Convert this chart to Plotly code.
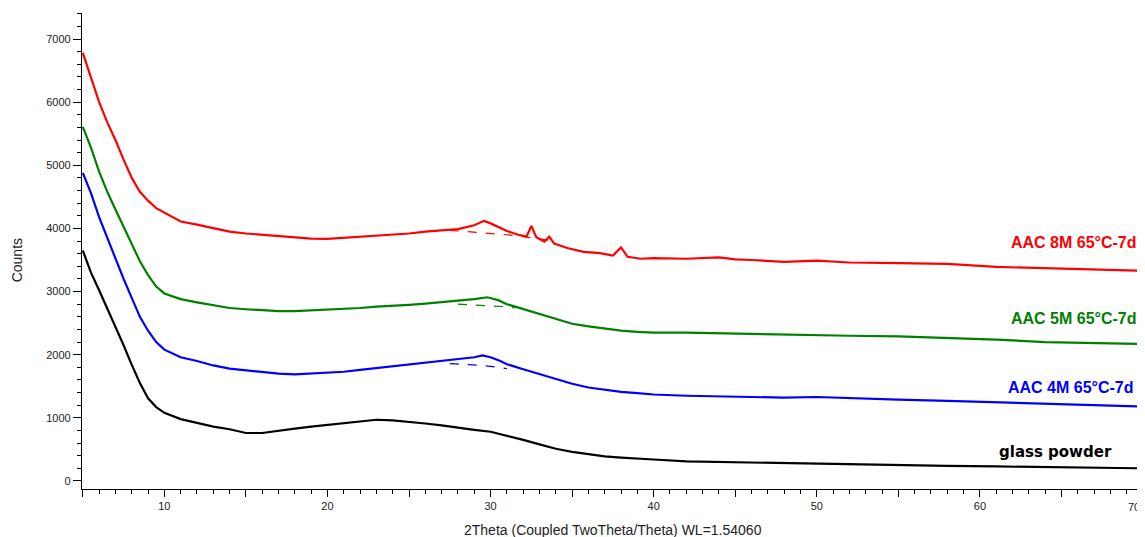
import plotly.graph_objects as go

# ---------------- data ----------------
x_8m = [5, 5.5, 6, 6.5, 7, 7.5, 8, 8.5, 9, 9.5, 10, 11, 12, 13, 14, 15, 16, 17, 18, 19, 20,
        21, 22, 23, 24, 25, 26, 27, 28, 29, 29.6, 30, 30.6, 31, 31.7, 32.2, 32.5, 32.8, 33.3,
        33.6, 33.9, 34.7, 35.7, 36.7, 37.5, 38, 38.4, 39.2, 40, 42, 44, 45, 46, 48, 50, 52,
        55, 58, 61, 64, 67, 70]
y_8m = [6780, 6400, 6000, 5680, 5400, 5090, 4800, 4580, 4440, 4320, 4250, 4110, 4060, 4000,
        3950, 3920, 3900, 3870, 3850, 3840, 3835, 3850, 3865, 3880, 3900, 3920, 3950, 3970,
        3990, 4050, 4120, 4080, 4010, 3960, 3900, 3870, 4040, 3860, 3790, 3870, 3760, 3690,
        3630, 3610, 3570, 3700, 3550, 3520, 3530, 3520, 3540, 3510, 3500, 3470, 3490, 3460,
        3450, 3440, 3390, 3370, 3350, 3330]

x_5m = [5, 5.5, 6, 6.5, 7, 7.5, 8, 8.5, 9, 9.5, 10, 11, 12, 13, 14, 15, 16, 17, 18, 19, 20,
        21, 22, 23, 24, 25, 26, 27, 28, 29, 29.8, 30.5, 31, 32, 33, 34, 35, 36, 37, 38, 39,
        40, 42, 44, 46, 48, 50, 52, 55, 58, 61, 64, 67, 70]
y_5m = [5610, 5280, 4900, 4580, 4300, 4020, 3740, 3480, 3260, 3080, 2970, 2880, 2830, 2780,
        2740, 2720, 2700, 2690, 2690, 2700, 2710, 2730, 2740, 2760, 2770, 2790, 2810, 2830,
        2850, 2880, 2910, 2860, 2800, 2720, 2640, 2560, 2490, 2450, 2410, 2380, 2360, 2350,
        2350, 2340, 2320, 2310, 2300, 2300, 2290, 2270, 2240, 2200, 2190, 2170]

x_4m = [5, 5.5, 6, 6.5, 7, 7.5, 8, 8.5, 9, 9.5, 10, 11, 12, 13, 14, 15, 16, 17, 18, 19, 20,
        21, 22, 23, 24, 25, 26, 27, 28, 29, 29.5, 30, 30.6, 31, 32, 33, 34, 35, 36, 37, 38,
        39, 40, 42, 44, 46, 48, 50, 52, 55, 58, 61, 64, 67, 70]
y_4m = [4880, 4560, 4180, 3850, 3520, 3200, 2900, 2600, 2380, 2200, 2080, 1960, 1900, 1830,
        1780, 1750, 1720, 1700, 1690, 1700, 1710, 1730, 1760, 1790, 1820, 1850, 1880, 1900,
        1930, 1960, 1990, 1960, 1900, 1850, 1770, 1690, 1610, 1540, 1480, 1440, 1410, 1390,
        1370, 1350, 1340, 1330, 1320, 1330, 1310, 1290, 1270, 1250, 1230, 1210, 1180]

x_glass = [5, 5.5, 6, 6.5, 7, 7.5, 8, 8.5, 9, 9.5, 10, 11, 12, 13, 14, 15, 16, 17, 18, 19,
           20, 21, 22, 23, 24, 25, 26, 27, 28, 29, 30, 31, 32, 33, 34, 35, 36, 37, 38, 39,
           40, 42, 44, 46, 48, 50, 52, 55, 58, 61, 64, 67, 70]
y_glass = [3650, 3300, 3020, 2730, 2450, 2150, 1840, 1550, 1310, 1170, 1080, 980, 920, 860,
           820, 760, 760, 800, 830, 860, 890, 920, 950, 970, 960, 940, 910, 880, 840, 810,
           780, 720, 650, 580, 510, 460, 420, 390, 370, 350, 340, 310, 300, 290, 280, 270,
           260, 250, 240, 230, 220, 210, 200]

# dashed amorphous baselines under the humps
xb_8m = [27.5, 28.5, 30, 31, 32, 33, 34]
yb_8m = [3970, 3950, 3930, 3900, 3870, 3840, 3800]
xb_5m = [28, 29, 30, 31, 31.5]
yb_5m = [2800, 2790, 2780, 2760, 2740]
xb_4m = [27.5, 28.5, 29.5, 30.5, 31]
yb_4m = [1860, 1850, 1830, 1800, 1780]

names = ["AAC 8M 65°C-7d", "AAC 5M 65°C-7d", "AAC 4M 65°C-7d", "glass powder"]
colors = ["#ff0000", "#008000", "#0000ff", "#000000"]

x_ticks = [5, 10, 15, 20, 25, 30, 35, 40, 45, 50, 55, 60, 65, 70]
x_ticktext = ["", "10", "", "20", "", "30", "", "40", "", "50", "", "60", "", ""]
x_last_label = "70"   # sits at the right edge, drawn right-aligned
y_ticks = [0, 1000, 2000, 3000, 4000, 5000, 6000, 7000]

# ---------------- figure ----------------
fig = go.Figure()
series = [(x_8m, y_8m), (x_5m, y_5m), (x_4m, y_4m), (x_glass, y_glass)]
for (xs, ys), nm, c in zip(series, names, colors):
    fig.add_trace(go.Scatter(x=xs, y=ys, mode="lines", name=nm,
                             line=dict(color=c, width=2.2), showlegend=False))
for (xs, ys), c in zip([(xb_8m, yb_8m), (xb_5m, yb_5m), (xb_4m, yb_4m)], colors[:3]):
    fig.add_trace(go.Scatter(x=xs, y=ys, mode="lines", showlegend=False,
                             line=dict(color=c, width=1.2, dash="dash")))

# series labels
label_pos = [(69.75, 3770), (69.75, 2580), (69.6, 1473), (68.2, 460)]
for (lx, ly), nm, c in zip(label_pos, names, colors):
    fnt = dict(family="Arial, Liberation Sans", size=16, color=c)
    if nm == "glass powder":
        fnt = dict(family="DejaVu Sans", size=15, color=c)
    fig.add_annotation(x=lx, y=ly, xref="x", yref="y", text="<b>" + nm + "</b>",
                       showarrow=False, xanchor="right", yanchor="middle", font=fnt)

# last x tick label at the right edge
fig.add_annotation(x=x_ticks[-1], y=-0.038, xref="x", yref="paper", text=x_last_label,
                   showarrow=False, xanchor="right", yanchor="middle", xshift=-1,
                   font=dict(family="Arial, Liberation Sans", size=11, color="#222"))

# axis titles
fig.add_annotation(x=0.5, y=-0.086, xref="paper", yref="paper",
                   text="2Theta (Coupled TwoTheta/Theta) WL=1.54060", showarrow=False,
                   xanchor="center", yanchor="middle",
                   font=dict(family="Arial, Liberation Sans", size=14, color="#222"))
fig.add_annotation(x=-0.061, y=0.481, xref="paper", yref="paper", text="Counts",
                   showarrow=False, textangle=-90, xanchor="center", yanchor="middle",
                   font=dict(family="Arial, Liberation Sans", size=14, color="#222"))

# page body has an 8 px margin, so the figure is 8 px smaller and margins shifted
fig.update_layout(
    width=1137, height=529,
    margin=dict(l=74, r=2, t=5, b=48),
    plot_bgcolor="white", paper_bgcolor="white",
    font=dict(family="Arial, Liberation Sans", size=11, color="#222"),
    xaxis=dict(range=[4.95, 70], showgrid=False, zeroline=False,
               showline=True, linecolor="black", linewidth=1.2,
               ticks="outside", ticklen=7, tickwidth=1.2, tickcolor="black",
               tickmode="array", tickvals=x_ticks, ticktext=x_ticktext,
               minor=dict(dtick=1, ticklen=4, tickwidth=1, tickcolor="black", ticks="outside")),
    yaxis=dict(range=[-127, 7412], showgrid=False, zeroline=False,
               showline=True, linecolor="black", linewidth=1.2,
               ticks="outside", ticklen=8, tickwidth=1.2, tickcolor="black",
               tickmode="array", tickvals=y_ticks,
               minor=dict(dtick=200, tick0=0, ticklen=4, tickwidth=1, tickcolor="black", ticks="outside")),
)

fig.write_html("out.html")
